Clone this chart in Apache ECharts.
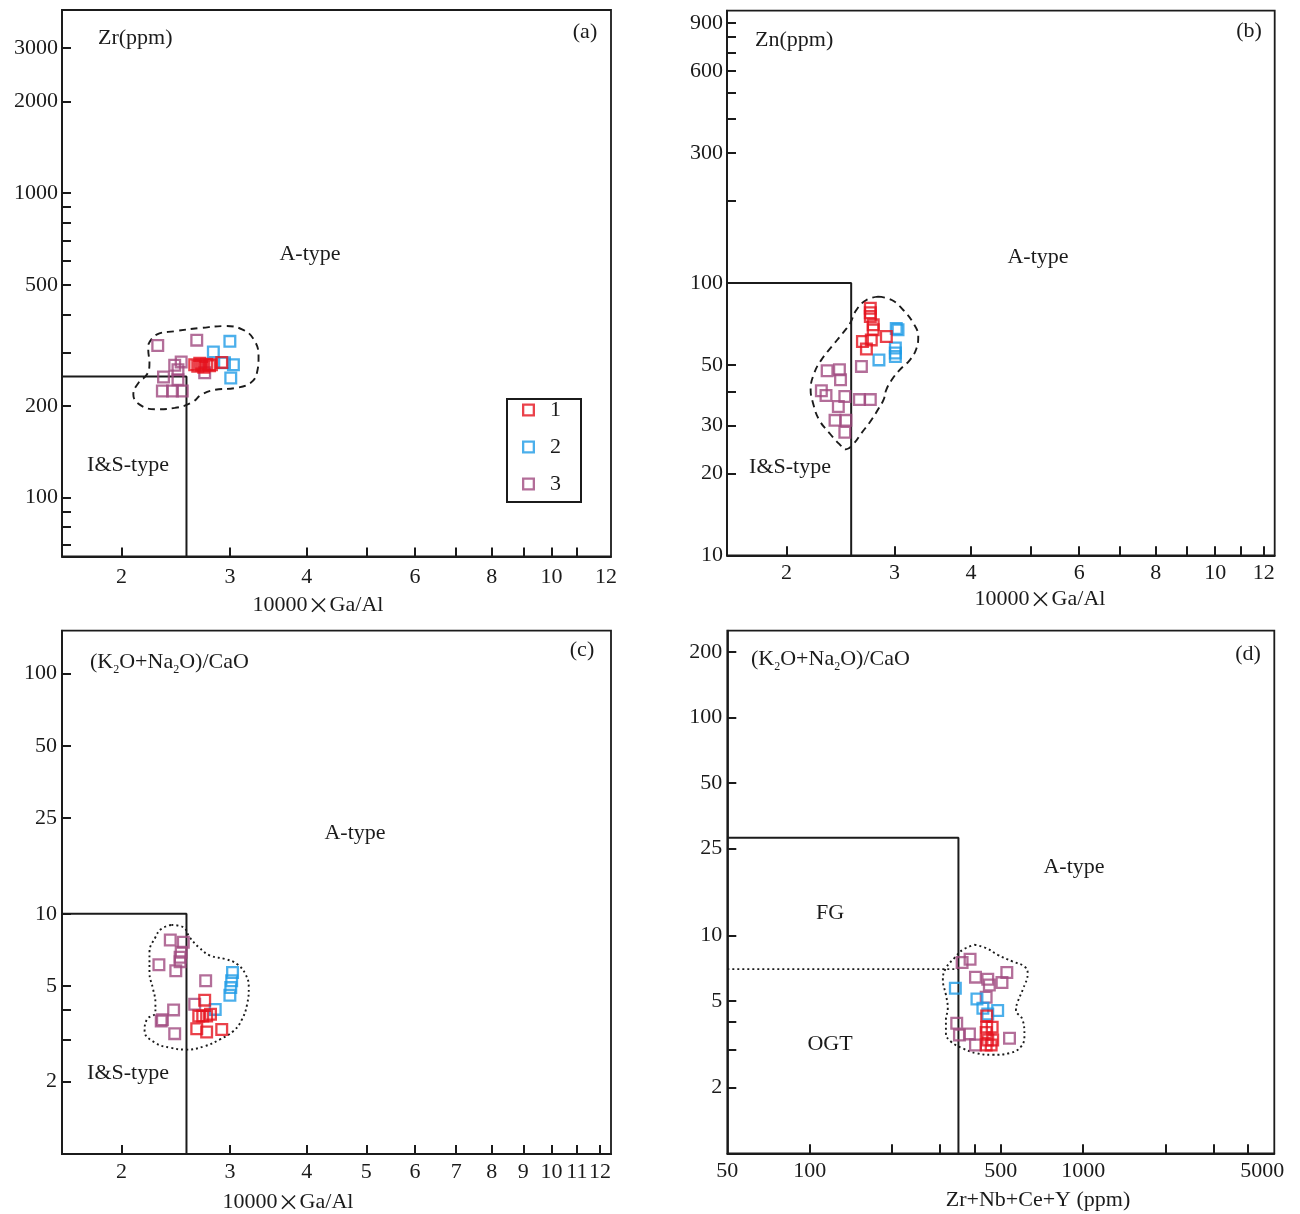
<!DOCTYPE html>
<html>
<head>
<meta charset="utf-8">
<title>Granite discrimination diagrams</title>
<script src="https://cdn.jsdelivr.net/npm/echarts@6/dist/echarts.min.js"></script>
<style>
  html, body { margin: 0; padding: 0; background: #fff; }
  #chart { width: 1300px; height: 1214px; }
</style>
</head>
<body>
<div id="chart"></div>
<script>
// ---------- data ----------
// (a) Zr (ppm) vs 10000*Ga/Al
const aGroup1 = [[2.63,273],[2.66,270],[2.68,276],[2.70,272],[2.72,268],[2.75,274],[2.78,271],[2.80,273],[2.91,278]];
const aGroup2 = [[2.82,301],[3.00,326],[2.94,277],[3.04,273],[3.01,247]];
const aGroup3 = [[2.29,316],[2.65,329],[2.50,279],[2.44,272],[2.47,263],[2.34,249],[2.47,244],[2.33,224],[2.42,224],[2.51,224],[2.73,257]];
const aBoundary = [[1.6,250],[2.55,250],[2.55,64]];
const aEnvelope = [[2.21,318],[2.28,343],[2.44,352],[2.70,361],[2.95,366],[3.14,357],[3.28,331],[3.34,291],[3.32,257],[3.24,238],[3.06,229],[2.84,226],[2.70,218],[2.60,205],[2.44,197],[2.27,195],[2.14,202],[2.09,218],[2.13,238],[2.20,254],[2.22,277],[2.21,306]];

// (b) Zn (ppm) vs 10000*Ga/Al
const bGroup1 = [[2.74,80.8],[2.74,77.8],[2.74,75.3],[2.77,70.2],[2.77,67.3],[2.91,63.6],[2.75,61.8],[2.66,61.0],[2.70,57.2]];
const bGroup2 = [[3.04,67.3],[3.02,68.0],[3.01,57.7],[3.01,55.3],[3.01,53.7],[2.83,52.2]];
const bGroup3 = [[2.33,47.6],[2.44,48.0],[2.45,44.1],[2.65,49.4],[2.28,40.2],[2.32,38.6],[2.49,38.3],[2.63,37.3],[2.74,37.3],[2.43,35.2],[2.40,31.3],[2.50,31.3],[2.49,28.3]];
const bBoundary = [[1.6,100],[2.55,100],[2.55,10]];
const bEnvelope = [[2.82,89.1],[2.97,86.6],[3.10,79.6],[3.22,71.2],[3.28,63.6],[3.26,57.7],[3.18,52.2],[3.06,48.0],[2.97,44.1],[2.91,40.6],[2.88,37.3],[2.82,34.3],[2.74,31.0],[2.65,28.1],[2.57,25.6],[2.50,24.5],[2.44,25.6],[2.35,28.1],[2.26,31.5],[2.21,36.2],[2.19,40.6],[2.22,46.7],[2.28,52.2],[2.37,58.4],[2.47,65.4],[2.54,71.2],[2.60,79.6],[2.70,86.6]];

// (c) (K2O+Na2O)/CaO vs 10000*Ga/Al
const cGroup1 = [[2.73,4.37],[2.67,3.75],[2.71,3.75],[2.75,3.75],[2.79,3.82],[2.65,3.32],[2.75,3.22],[2.91,3.30]];
const cGroup2 = [[3.03,5.70],[3.02,5.26],[3.01,4.93],[3.00,4.58],[2.84,4.00]];
const cGroup3 = [[2.40,7.78],[2.52,7.61],[2.50,6.91],[2.49,6.59],[2.49,6.32],[2.30,6.14],[2.45,5.79],[2.74,5.26],[2.63,4.20],[2.43,3.98],[2.32,3.58],[2.33,3.62],[2.44,3.17]];
const cBoundary = [[1.6,10],[2.55,10],[2.55,1]];
const cEnvelope = [[2.41,8.99],[2.52,8.80],[2.58,7.99],[2.67,7.26],[2.79,6.69],[2.95,6.48],[3.08,6.18],[3.18,5.61],[3.22,4.93],[3.20,4.20],[3.14,3.64],[3.04,3.25],[2.89,3.00],[2.73,2.81],[2.55,2.72],[2.40,2.77],[2.27,2.90],[2.18,3.25],[2.20,3.64],[2.27,3.88],[2.27,4.27],[2.25,4.86],[2.22,5.70],[2.22,6.91],[2.27,7.99],[2.32,8.65]];

// (d) (K2O+Na2O)/CaO vs Zr+Nb+Ce+Y
const dGroup1 = [[444,4.27],[444,3.79],[465,3.79],[442,3.58],[448,3.31],[467,3.31],[442,3.14],[461,3.14]];
const dGroup2 = [[341,5.72],[409,5.10],[430,4.63],[487,4.52],[448,4.35]];
const dGroup3 = [[361,7.50],[386,7.77],[404,6.43],[448,6.29],[454,5.92],[505,6.07],[526,6.75],[442,5.20],[345,3.95],[353,3.49],[384,3.53],[404,3.14],[538,3.37]];
const dBoundary = [[50,28],[350,28],[350,1]];
const dDivide = [[50,7],[350,7]];
const dEnvelope = [[401,9.05],[442,8.74],[487,8.14],[553,7.58],[610,7.19],[627,6.71],[601,5.62],[577,4.97],[568,4.55],[601,4.09],[610,3.49],[593,3.09],[538,2.88],[467,2.83],[406,2.88],[363,3.03],[329,3.25],[315,3.56],[315,4.09],[320,4.63],[315,5.33],[307,6.25],[315,7.07],[338,7.86],[363,8.58]];

// axis ranges, ticks and tick labels
const gaAlRange = [1.6, 12.5];
const aZrRange = [64, 4000];
const bZnRange = [10, 1000];
const cRatioRange = [1, 151];
const dSumRange = [50, 5000];
const dRatioRange = [1, 250];

const aXTicks = [2,3,4,5,6,7,8,9,10,11];
const abXLabels = [2,3,4,6,8,10,12];
const aYTicks = [70,80,90,100,200,300,400,500,600,700,800,900,1000,2000,3000];
const aYLabels = [100,200,500,1000,2000,3000];
const bcXTicks = [2,3,4,5,6,7,8,9,10,11,12];
const bYTicks = [10,20,30,40,50,100,200,300,400,500,600,700,800,900];
const bYLabels = [10,20,30,50,100,300,600,900];
const cXLabels = [2,3,4,5,6,7,8,9,10,11,12];
const cdYTicks = [2,3,4,5,10,25,50,100,200];
const cYLabels = [2,5,10,25,50,100];
const dXTicks = [100,200,300,400,500,1000,2000,3000,4000];
const dXLabels = [50,100,500,1000,5000];
const dYLabels = [2,5,10,25,50,100,200];

const groupNames = ['1', '2', '3'];
const groupColors = ['#e5121d', '#1e9be6', '#a04a80'];

// ---------- styling ----------
const FONT = '"Liberation Serif", "Times New Roman", serif';
const CJK = '"Noto Sans CJK SC", sans-serif';
const INK = '#1b1b1b';
const FS = 22;
const HOLLOW_SQUARE = 'path://M0,0H13V13H0Z M2.3,2.3V10.7H10.7V2.3Z';

const grids = [
  { left: 62, top: 10, width: 549, height: 546.5 },
  { left: 727, top: 10.7, width: 547.7, height: 544.6 },
  { left: 62, top: 630.6, width: 549, height: 523.4 },
  { left: 727.3, top: 630.6, width: 547, height: 522.7 }
].map(g => Object.assign({ show: true, borderColor: INK, borderWidth: 1.8, containLabel: false }, g));

const roundText = v => String(Math.round(v * 1000) / 1000);
const labelRich = {
  toRight: { fontFamily: FONT, fontSize: FS, color: INK, padding: [0, 0, 0, 12] },
  toLeft: { fontFamily: FONT, fontSize: FS, color: INK, padding: [0, 24, 0, 0] }
};

// the end label of an axis sits a little off its tick
function edgeFormatter(edgeValue, style) {
  return v => {
    const t = roundText(v);
    return Math.abs(v - edgeValue) < 1e-6 ? '{' + style + '|' + t + '}' : t;
  };
}

function logAxis(index, range, ticks, labels, margin, formatter) {
  return {
    type: 'log',
    logBase: 10,
    gridIndex: index,
    min: range[0],
    max: range[1],
    axisLine: { show: true, lineStyle: { color: INK, width: 1.8 } },
    axisTick: { show: true, inside: true, length: 9, customValues: ticks, lineStyle: { color: INK, width: 2 } },
    minorTick: { show: false },
    splitLine: { show: false },
    axisLabel: {
      show: true, customValues: labels, formatter: formatter || roundText, margin: margin,
      color: INK, fontFamily: FONT, fontSize: FS, rich: labelRich
    }
  };
}

const xAxes = [
  logAxis(0, gaAlRange, aXTicks, abXLabels, 10, edgeFormatter(12, 'toRight')),
  logAxis(1, gaAlRange, bcXTicks, abXLabels, 7),
  logAxis(2, gaAlRange, bcXTicks, cXLabels, 7),
  logAxis(3, dSumRange, dXTicks, dXLabels, 7, edgeFormatter(5000, 'toLeft'))
];
const yAxes = [
  logAxis(0, aZrRange, aYTicks, aYLabels, 4),
  logAxis(1, bZnRange, bYTicks, bYLabels, 4),
  logAxis(2, cRatioRange, cdYTicks, cYLabels, 5),
  logAxis(3, dRatioRange, cdYTicks, dYLabels, 5)
];

const series = [];
const panels = [
  { groups: [aGroup1, aGroup2, aGroup3], boundary: aBoundary, envelope: aEnvelope, dash: [7, 5] },
  { groups: [bGroup1, bGroup2, bGroup3], boundary: bBoundary, envelope: bEnvelope, dash: [7, 5] },
  { groups: [cGroup1, cGroup2, cGroup3], boundary: cBoundary, envelope: cEnvelope, dash: [2, 3] },
  { groups: [dGroup1, dGroup2, dGroup3], boundary: dBoundary, envelope: dEnvelope, dash: [2, 3] }
];

panels.forEach((p, i) => {
  series.push({
    type: 'line', xAxisIndex: i, yAxisIndex: i, data: p.boundary,
    symbol: 'none', silent: true, z: 3,
    lineStyle: { color: INK, width: 2 }
  });
  series.push({
    type: 'line', xAxisIndex: i, yAxisIndex: i, data: p.envelope.concat([p.envelope[0]]),
    symbol: 'none', smooth: 0.45, silent: true, z: 3,
    lineStyle: { color: INK, width: 1.9, type: p.dash }
  });
  // purple group first so red and blue sit on top
  [2, 1, 0].forEach(g => {
    series.push({
      name: groupNames[g], type: 'scatter', xAxisIndex: i, yAxisIndex: i,
      data: p.groups[g], symbol: HOLLOW_SQUARE, symbolSize: 13, z: 5,
      itemStyle: { color: groupColors[g] }
    });
  });
});

series.push({
  type: 'line', xAxisIndex: 3, yAxisIndex: 3, data: dDivide,
  symbol: 'none', silent: true, z: 3,
  lineStyle: { color: INK, width: 1.7, type: [2, 3] }
});

function label(text, x, y, align) {
  return {
    type: 'text', x: x, y: y, silent: true, z: 10,
    style: {
      text: text, fill: INK, font: FS + 'px ' + FONT,
      textAlign: align || 'center', textVerticalAlign: 'middle'
    }
  };
}
// axis title with a full-width multiplication sign
function gaAlLabel(x, y) {
  return {
    type: 'text', x: x, y: y, silent: true, z: 10,
    style: {
      text: '{n|10000}{x|×}{n|Ga/Al}', fill: INK,
      textAlign: 'center', textVerticalAlign: 'middle',
      rich: {
        n: { fontFamily: FONT, fontSize: FS, fill: INK },
        x: { fontFamily: CJK, fontSize: FS, fill: INK }
      }
    }
  };
}
function ratioLabel(x, y) {
  return {
    type: 'text', x: x, y: y, silent: true, z: 10,
    style: {
      text: '{n|(K}{s|2}{n|O+Na}{s|2}{n|O)/CaO}', fill: INK,
      textAlign: 'left', textVerticalAlign: 'middle',
      rich: {
        n: { fontFamily: FONT, fontSize: FS, lineHeight: 27, fill: INK },
        s: { fontFamily: FONT, fontSize: 12, lineHeight: 27, verticalAlign: 'bottom', fill: INK }
      }
    }
  };
}

const graphics = [
  label('Zr(ppm)', 98, 38, 'left'), label('(a)', 585, 32), label('A-type', 310, 254), label('I&S-type', 128, 465),
  gaAlLabel(318, 605),
  label('Zn(ppm)', 755, 40, 'left'), label('(b)', 1249, 31), label('A-type', 1038, 257), label('I&S-type', 790, 467),
  gaAlLabel(1040, 599),
  ratioLabel(90, 662), label('(c)', 582, 650), label('A-type', 355, 833), label('I&S-type', 128, 1073),
  gaAlLabel(288, 1202),
  ratioLabel(751, 659), label('(d)', 1248, 654), label('A-type', 1074, 867), label('FG', 830, 913), label('OGT', 830, 1044),
  label('Zr+Nb+Ce+Y (ppm)', 1038, 1200)
];

const chart = echarts.init(document.getElementById('chart'), null, { renderer: 'canvas' });
chart.setOption({
  animation: false,
  backgroundColor: '#fff',
  grid: grids,
  xAxis: xAxes,
  yAxis: yAxes,
  legend: {
    data: groupNames, orient: 'vertical', left: 507, top: 399,
    padding: [0, 20, 7, 15], itemGap: 15, itemWidth: 13, itemHeight: 13,
    borderColor: INK, borderWidth: 2, selectedMode: false,
    textStyle: { fontFamily: FONT, fontSize: FS, color: INK, padding: [0, 0, 0, 10] }
  },
  series: series,
  graphic: graphics
});
</script>
</body>
</html>
